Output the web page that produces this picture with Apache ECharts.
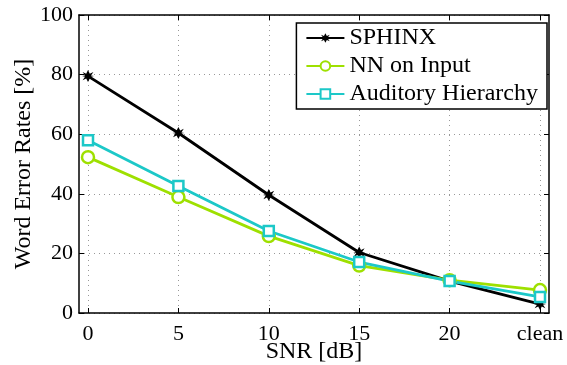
<!DOCTYPE html>
<html>
<head>
<meta charset="utf-8">
<script src="https://cdn.jsdelivr.net/npm/echarts@6/dist/echarts.min.js"></script>
<style>
  html, body { margin: 0; padding: 0; background: #fff; }
  #chart { width: 567px; height: 365px; }
</style>
</head>
<body>
<div id="chart"></div>
<script>
const snrLabels = ['0', '5', '10', '15', '20', 'clean']
const sphinx = [79.5, 60.4, 39.6, 20.3, 10.7, 3.0]
const nnInput = [52.3, 38.9, 25.8, 15.9, 11.0, 7.7]
const auditory = [58.0, 42.6, 27.5, 17.1, 10.7, 5.4]

const font = 'Liberation Serif'
const star = 'path://M0,-10L3,-4L9,-7L5,-1L10,0L5,1L9,7L3,4L0,10L-3,4L-9,7L-5,1L-10,0L-5,-1L-9,-7L-3,-4Z'

const toPoints = arr => arr.map((v, i) => [i, v])

const chart = echarts.init(document.getElementById('chart'))

const dotted = { show: true, lineStyle: { color: '#999', type: [1, 4], width: 1 } }
const frameLine = { show: true, onZero: false, lineStyle: { color: '#000', width: 1.5 } }
const inTick = { show: true, inside: true, length: 5, lineStyle: { color: '#000' } }

chart.setOption({
  animation: false,
  grid: [
    // outer frame
    { left: 79, right: 18, top: 15, bottom: 52, outerBoundsMode: 'none' },
    // data area, padded so 0 and clean sit inside the frame
    { left: 88, right: 27, top: 15, bottom: 52, outerBoundsMode: 'none' }
  ],
  legend: {
    right: 20,
    top: 23,
    orient: 'vertical',
    backgroundColor: '#fff',
    borderColor: '#000',
    borderWidth: 1.5,
    borderRadius: 0,
    padding: [3, 9, 3, 9],
    itemGap: 4,
    itemWidth: 38,
    itemHeight: 12,
    textStyle: { fontFamily: font, fontSize: 24, color: '#000' },
    data: ['SPHINX', 'NN on Input', 'Auditory Hierarchy']
  },
  xAxis: [{
    gridIndex: 0, type: 'value', min: 0, max: 1,
    axisLine: frameLine, axisTick: { show: false }, axisLabel: { show: false }, splitLine: { show: false }
  }, {
    gridIndex: 0, type: 'value', position: 'top', min: 0, max: 1,
    axisLine: frameLine, axisTick: { show: false }, axisLabel: { show: false }, splitLine: { show: false }
  }, {
    gridIndex: 1,
    type: 'value',
    min: 0,
    max: 5,
    interval: 1,
    axisLine: { show: false, onZero: false },
    axisTick: inTick,
    axisLabel: {
      fontFamily: font, fontSize: 22, color: '#000', margin: 10,
      formatter: v => snrLabels[Math.round(v)]
    },
    splitLine: dotted,
    name: 'SNR [dB]',
    nameLocation: 'middle',
    nameGap: 27,
    nameMoveOverlap: false,
    nameTextStyle: { fontFamily: font, fontSize: 24, color: '#000' }
  }, {
    gridIndex: 1, type: 'value', position: 'top', min: 0, max: 5, interval: 1,
    axisLine: { show: false, onZero: false }, axisTick: inTick, axisLabel: { show: false }, splitLine: { show: false }
  }],
  yAxis: [{
    gridIndex: 0,
    type: 'value',
    min: 0,
    max: 100,
    interval: 20,
    axisLine: frameLine,
    axisTick: inTick,
    axisLabel: { fontFamily: font, fontSize: 22, color: '#000', margin: 6 },
    splitLine: dotted,
    name: 'Word Error Rates [%]',
    nameLocation: 'middle',
    nameGap: 43,
    nameMoveOverlap: false,
    nameTextStyle: { fontFamily: font, fontSize: 24, color: '#000' }
  }, {
    gridIndex: 0, type: 'value', position: 'right', min: 0, max: 100, interval: 20,
    axisLine: frameLine, axisTick: inTick, axisLabel: { show: false }, splitLine: { show: false }
  }, {
    gridIndex: 1, type: 'value', min: 0, max: 100, show: false
  }],
  series: [{
    name: 'SPHINX',
    type: 'line',
    xAxisIndex: 2,
    yAxisIndex: 2,
    data: toPoints(sphinx),
    lineStyle: { width: 2.8, color: '#000' },
    symbol: star,
    symbolSize: 12,
    itemStyle: { color: '#000' }
  }, {
    name: 'NN on Input',
    type: 'line',
    xAxisIndex: 2,
    yAxisIndex: 2,
    data: toPoints(nnInput),
    lineStyle: { width: 2.8, color: '#9ee000' },
    symbol: 'circle',
    symbolSize: 12,
    itemStyle: { color: '#fff', borderColor: '#9ee000', borderWidth: 2.5 }
  }, {
    name: 'Auditory Hierarchy',
    type: 'line',
    xAxisIndex: 2,
    yAxisIndex: 2,
    data: toPoints(auditory),
    lineStyle: { width: 2.8, color: '#1cc8c8' },
    symbol: 'rect',
    symbolSize: 10,
    itemStyle: { color: '#fff', borderColor: '#1cc8c8', borderWidth: 2.5 }
  }]
})
</script>
</body>
</html>
